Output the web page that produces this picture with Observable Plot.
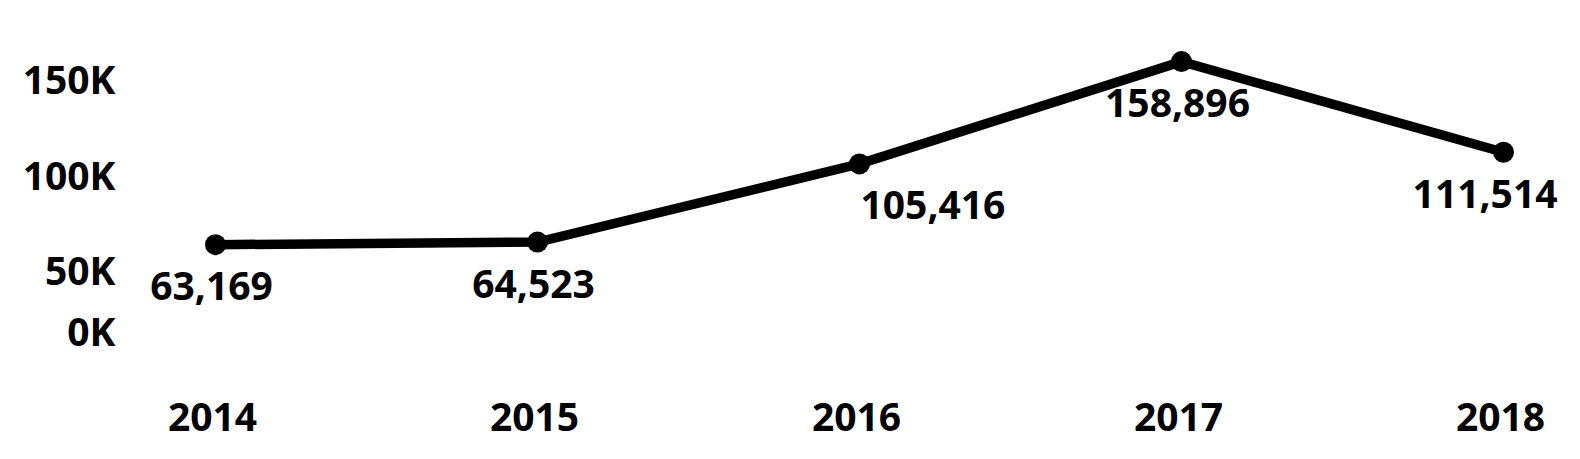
<!DOCTYPE html>
<html>
<head>
<meta charset="utf-8">
<script src="https://cdn.jsdelivr.net/npm/d3@7"></script>
<script src="https://cdn.jsdelivr.net/npm/@observablehq/plot@0.6"></script>
<style>
  html, body { margin: 0; padding: 0; background: #fff; }
  svg { display: block; }
</style>
</head>
<body>
<div id="chart"></div>
<script>
const years = [2014, 2015, 2016, 2017, 2018];
const values = [63169, 64523, 105416, 158896, 111514];
const yTicks = [50000, 100000, 150000];
const zeroTick = [0];

const data = years.map((year, i) => ({ year, value: values[i] }));
const fmtK = d => `${d / 1000}K`;
const fmtN = d3.format(",");

const font = { fontFamily: "'Open Sans', sans-serif", fontWeight: "bold" };

const chart = Plot.plot({
  width: 1580,
  height: 459,
  marginLeft: 215,
  marginRight: 77,
  marginTop: 59,
  marginBottom: 94,
  style: { fontFamily: "'Open Sans', sans-serif", fontSize: "39px", fontWeight: "bold", color: "#000", background: "#fff", overflow: "visible" },
  x: { type: "linear", domain: [2014, 2018] },
  y: { domain: [0, 160000] },
  marks: [
    Plot.axisY(yTicks, { tickSize: 0, tickPadding: 100, tickFormat: fmtK, dy: 3, fontSize: 39, fill: "#000", label: null }),
    Plot.text(zeroTick, { x: () => 2014, y: d => d, text: fmtK, frameAnchor: "left", textAnchor: "end", dx: -100, dy: -32, fontSize: 39, fill: "#000", ...font }),
    Plot.axisX(years, { tickSize: 0, tickPadding: 38, tickFormat: d => String(d), dx: -3, fontSize: 39, fill: "#000", label: null }),
    Plot.line(data, { x: "year", y: "value", stroke: "#000", strokeWidth: 9.5, strokeLinejoin: "round" }),
    Plot.dot(data, { x: "year", y: "value", r: 10.5, fill: "#000", stroke: "none" }),
    Plot.text(data.filter((d, i) => i === 0 || i === 1 || i === 3), { x: "year", y: "value", text: d => fmtN(d.value), textAnchor: "middle", lineAnchor: "middle", dx: -4, dy: 43, fontSize: 39, fill: "#000", ...font }),
    Plot.text(data.filter((d, i) => i === 2), { x: "year", y: "value", text: d => fmtN(d.value), textAnchor: "start", lineAnchor: "middle", dx: 1, dy: 43, fontSize: 39, fill: "#000", ...font }),
    Plot.text(data.filter((d, i) => i === 4), { x: "year", y: "value", text: d => fmtN(d.value), textAnchor: "end", lineAnchor: "middle", dx: 54, dy: 43, fontSize: 39, fill: "#000", ...font })
  ]
});
document.getElementById("chart").appendChild(chart);
</script>
</body>
</html>
